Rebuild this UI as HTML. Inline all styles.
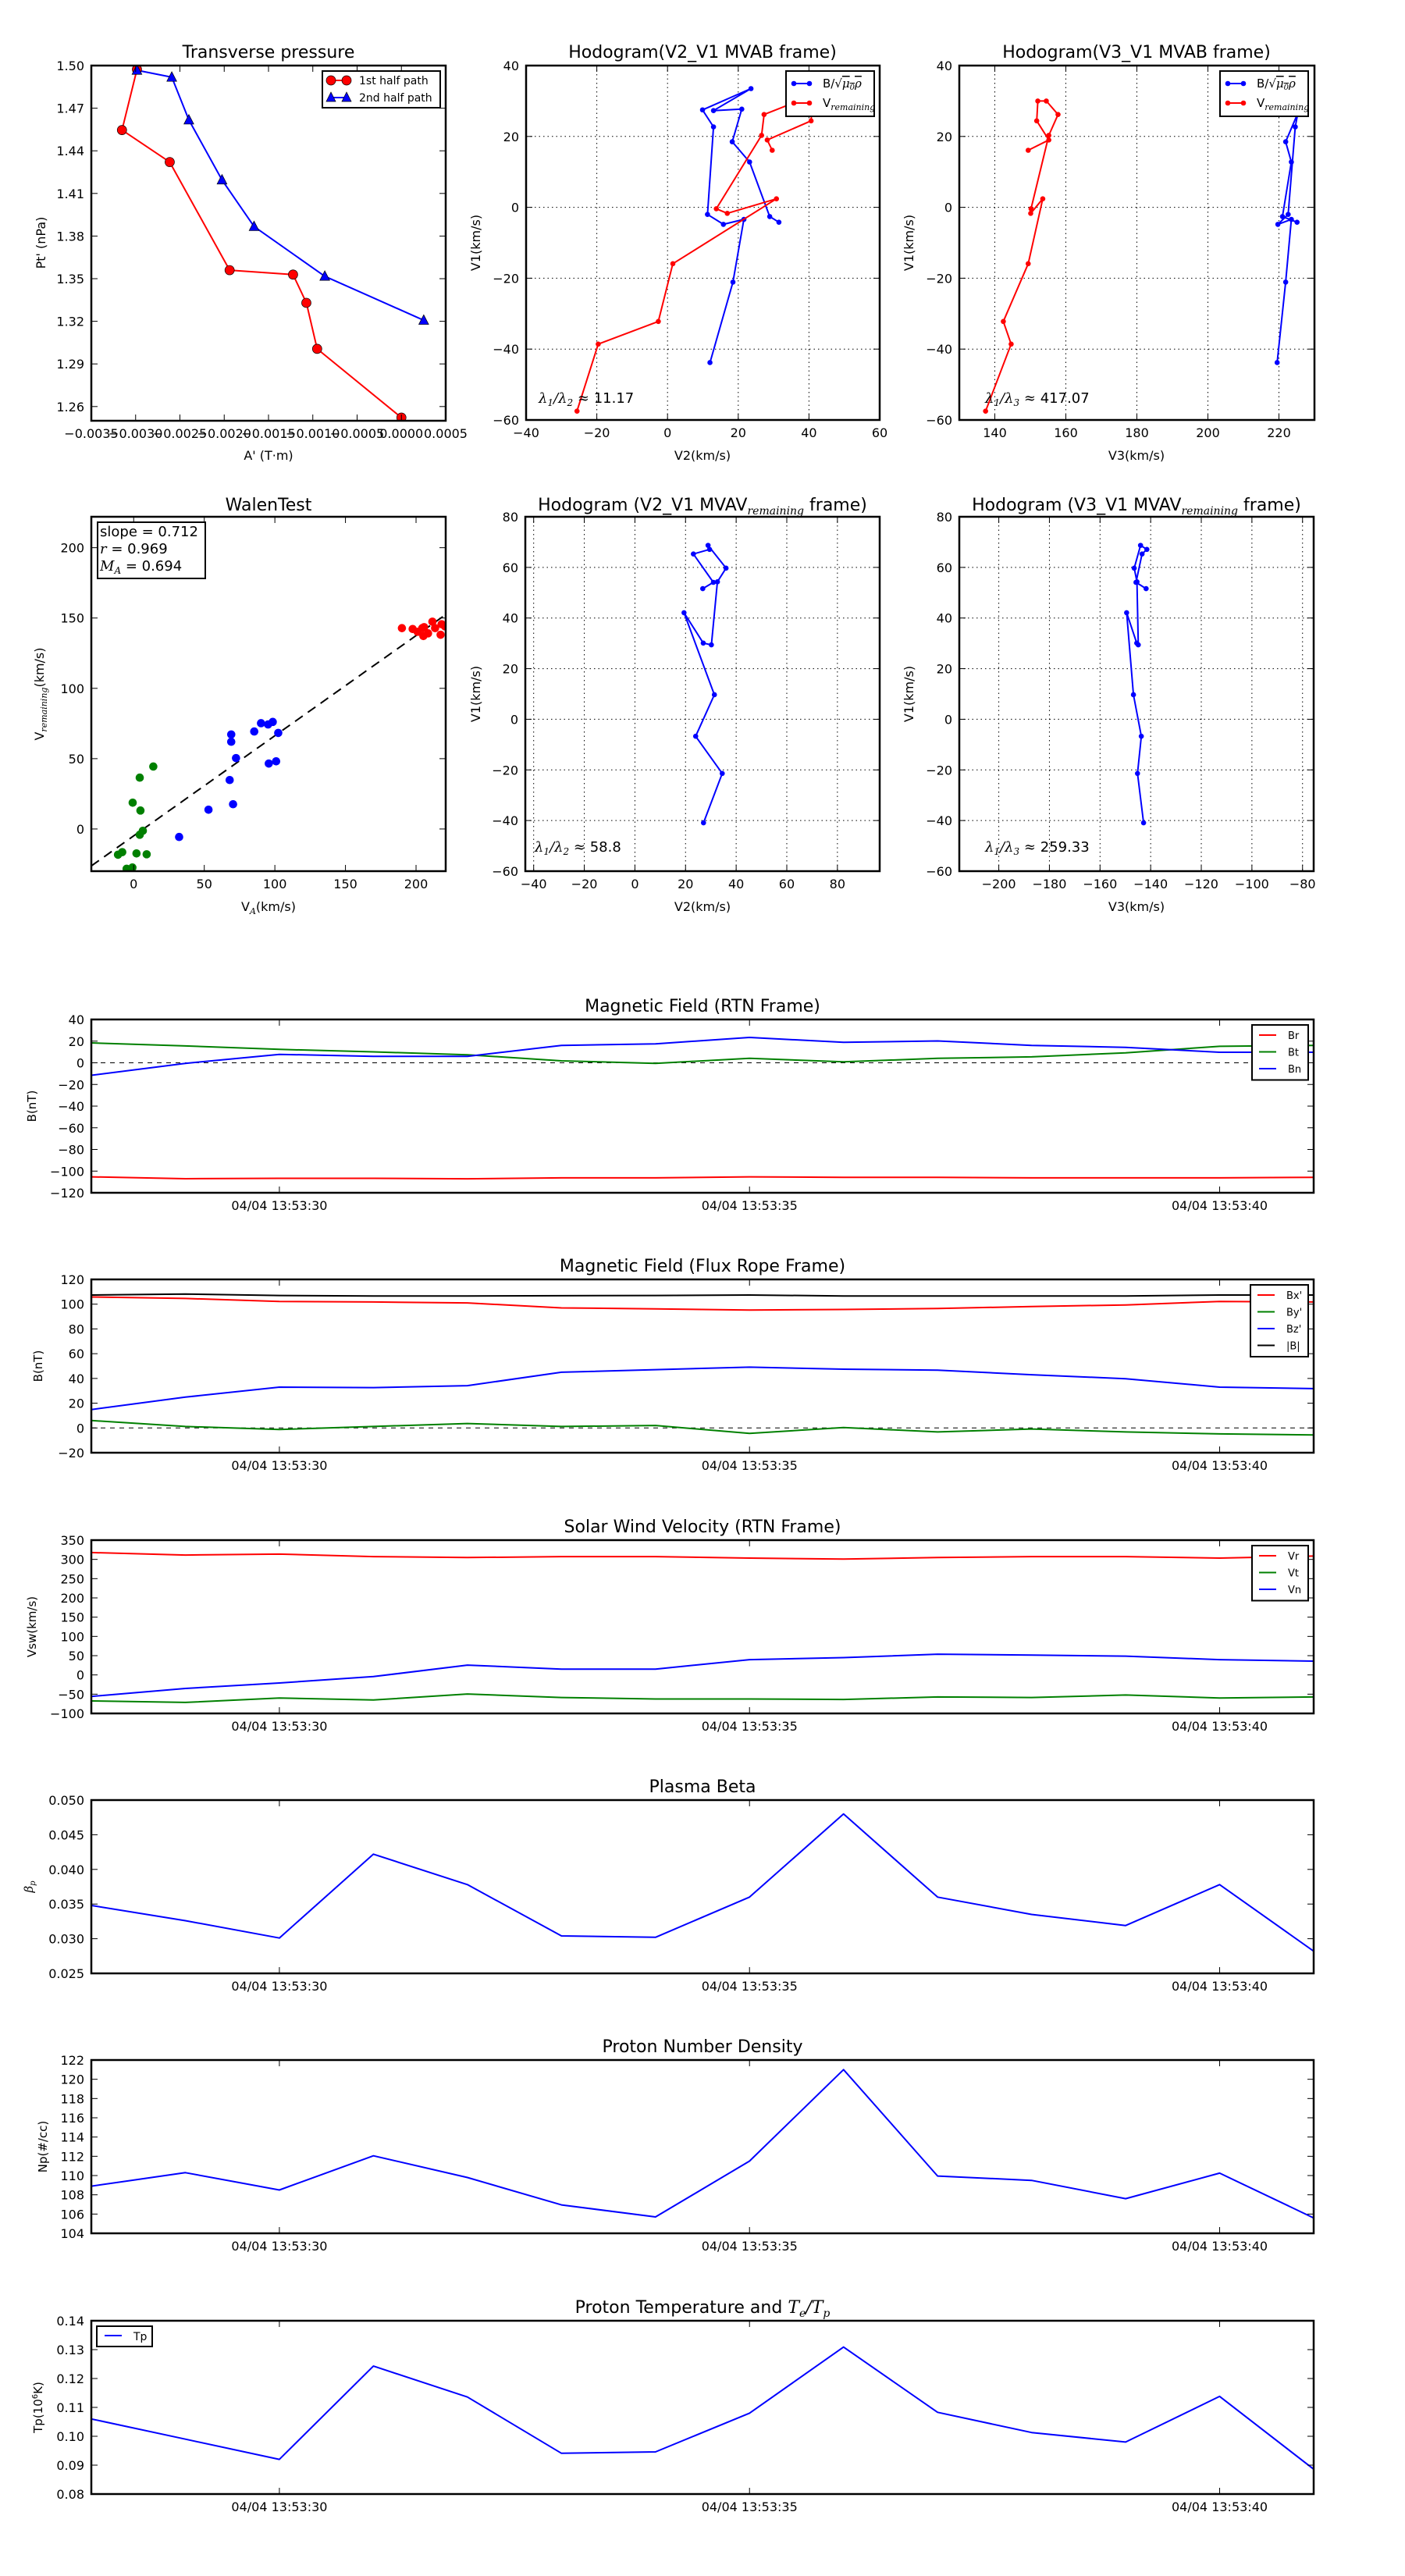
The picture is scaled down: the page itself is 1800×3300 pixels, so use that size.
<!DOCTYPE html>
<html><head><meta charset="utf-8"><title>Flux rope analysis</title>
<style>
html,body{margin:0;padding:0;background:#fff;}
svg{display:block;font-family:"DejaVu Sans","Liberation Sans",sans-serif;}
</style></head>
<body>
<svg id="fig" width="1800" height="3300" viewBox="0 0 1800 3300" xmlns="http://www.w3.org/2000/svg"></svg>
<script>
// ---------- Transverse pressure ----------
const tpRedA = [-0.002985,-0.003154,-0.002615,-0.001939,-0.001223,-0.001073,-0.000951,0.0000];
const tpRedP = [1.4973,1.4546,1.4321,1.3560,1.3529,1.3330,1.3006,1.2522];
const tpBlueA = [-0.002985,-0.002592,-0.002399,-0.002025,-0.001663,-0.000865,0.000252];
const tpBlueP = [1.4967,1.4918,1.4617,1.4195,1.3867,1.3517,1.3207];
const tpXTicks = [-0.0035,-0.0030,-0.0025,-0.0020,-0.0015,-0.0010,-0.0005,0.0000,0.0005];
const tpYTicks = [1.26,1.29,1.32,1.35,1.38,1.41,1.44,1.47,1.50];
// ---------- Hodogram MVAB ----------
const hbV2 = [12.0,18.5,21.6,15.8,11.3,13.0,9.9,23.6,13.0,21.0,18.3,23.2,28.9,31.5];
const hbV1 = [-43.8,-21.1,-3.4,-4.8,-2.0,22.7,27.5,33.5,27.3,27.7,18.5,12.8,-2.6,-4.2];
const hbV3 = [219.5,221.9,223.5,219.7,222.6,224.6,225.5,226.5,225.0,225.8,221.9,223.5,221.0,225.1];
const hvV2 = [-25.6,-19.6,-2.6,1.5,30.8,16.9,13.8,26.6,27.3,37.0,41.0,40.6,28.2,29.6];
const hvV1 = [-57.5,-38.6,-32.2,-15.9,2.4,-1.7,-0.4,20.3,26.2,30.0,30.0,24.4,19.0,16.1];
const hvV3 = [137.4,144.6,142.4,149.4,153.5,150.1,150.2,155.2,157.8,154.5,152.1,151.8,155.2,149.4];
const hodoV2Ticks = [-40,-20,0,20,40,60];
const hodoV1Ticks = [-60,-40,-20,0,20,40];
const hodoV3Ticks = [140,160,180,200,220];
// ---------- Walen ----------
const walGreenX = [13.9,4.3,-0.7,4.8,6.5,4.3,-11.1,-8.1,2.0,9.2,-5.0,-0.9];
const walGreenY = [44.4,36.5,18.7,13.1,-1.3,-4.1,-18.3,-16.5,-17.4,-18.0,-28.3,-27.4];
const walBlueX = [32.2,53.0,70.4,68.0,72.5,69.1,69.1,85.4,90.2,95.2,98.5,102.4,95.7,100.9];
const walBlueY = [-5.7,13.7,17.6,34.8,50.4,62.0,67.2,69.3,75.2,74.3,76.1,68.3,46.5,48.1];
const walRedX = [190,197.6,201.1,204.4,205.2,208.5,211.6,213.5,217.4,218.1,220.5,205.7];
const walRedY = [142.8,142.2,140.2,142.8,137.2,139.1,147.4,142.8,138.1,145.6,144.1,143.5];
const walSlope = [0.712];
const walIntercept = [-4.9];
const walTicks = [0,50,100,150,200];
// ---------- Hodogram MVAV remaining ----------
const hrV2 = [27.1,34.5,24.0,31.4,19.4,27.0,30.2,32.6,36.0,28.9,29.5,23.1,31.0,26.8];
const hrV1 = [-40.9,-21.4,-6.7,9.7,42.1,30.1,29.4,54.3,59.7,68.7,67.1,65.3,54.1,51.6];
const hrV3 = [-142.8,-145.2,-143.7,-146.8,-149.5,-145.5,-144.9,-145.4,-146.5,-144.0,-141.5,-143.4,-145.8,-141.8];
const hrV2Ticks = [-40,-20,0,20,40,60,80];
const hrV1Ticks = [-60,-40,-20,0,20,40,60,80];
const hrV3Ticks = [-200,-180,-160,-140,-120,-100,-80];
// ---------- Time series ----------
const timeSec = [28,29,30,31,32,33,34,35,36,37,38,39,40,41];
const timeTicks = [30,35,40];
const timeTickLabels = ["04/04 13:53:30","04/04 13:53:35","04/04 13:53:40"];
const rtnBr = [-105.3,-107.0,-106.7,-106.7,-107.1,-106.2,-106.2,-105.3,-105.7,-105.7,-106.2,-106.2,-106.2,-105.7];
const rtnBt = [18.4,15.6,12.4,10.1,7.4,1.8,-0.5,4.1,0.9,4.1,5.5,9.2,15.2,16.1];
const rtnBn = [-11.5,-0.5,7.8,6.0,6.0,16.1,17.5,23.4,18.9,20.2,16.1,14.3,9.7,9.7];
const frBx = [105.8,104.6,102.2,101.8,101.0,97.0,96.2,95.3,95.7,96.5,98.1,99.4,102.2,101.8];
const frBy = [6.0,1.2,-1.2,1.2,3.6,1.2,2.0,-4.4,0.4,-3.2,-0.8,-3.2,-4.8,-5.6];
const frBz = [14.9,24.9,33.0,32.6,34.2,45.0,47.1,49.1,47.5,46.7,43.0,39.8,33.0,31.8];
const frBm = [107.4,108.2,107.0,106.6,106.6,106.8,107.0,107.4,106.6,106.6,106.6,106.6,107.4,107.4];
const velVr = [317.7,311.2,313.8,307.3,304.7,307.3,307.3,303.4,300.8,304.7,307.3,307.3,303.4,308.6];
const velVt = [-67.6,-71.5,-59.9,-65.1,-49.6,-58.6,-62.5,-62.5,-63.8,-57.3,-58.6,-52.2,-59.9,-57.3];
const velVn = [-55.9,-35.2,-21.0,-4.3,25.5,15.1,15.1,39.7,44.9,53.9,51.4,48.8,39.7,35.8];
const betaP = [0.0348,0.0326,0.0301,0.0422,0.0378,0.0304,0.0302,0.0360,0.0480,0.0360,0.0335,0.0319,0.0378,0.0282];
const densNp = [108.9,110.3,108.5,112.05,109.8,106.95,105.7,111.5,121.0,109.95,109.5,107.6,110.25,105.6];
const tempTp = [0.106,0.099,0.092,0.1243,0.1136,0.0941,0.0946,0.108,0.1309,0.1083,0.1013,0.098,0.1138,0.0886];

const NS = "http://www.w3.org/2000/svg";
const svg = document.getElementById('fig');
function mk(tag, attrs, parent, name, inter) {
  const e = document.createElementNS(NS, tag);
  for (const k in attrs) e.setAttribute(k, attrs[k]);
  
  
  (parent || svg).appendChild(e);
  return e;
}
function txt(parent, x, y, s, name, opt) {
  opt = opt || {};
  const t = mk('text', {x:x, y:y, 'font-size':opt.size||16, 'text-anchor':opt.anchor||'middle', fill:'#000'}, parent, name);
  if (opt.rotate) t.setAttribute('transform', 'rotate(-90 ' + x + ' ' + y + ')');
  if (opt.html) t.innerHTML = s; else t.textContent = s;
  return t;
}
function fmtNum(v, d) { const s = Math.abs(v).toFixed(d); return (v < -1e-12 ? '\u2212' : '') + s; }
let clipId = 0;
function makeAxes(name, box, xd, yd) {
  const g = mk('g', {}, svg, name);
  const sx = v => box.x + (v - xd[0]) / (xd[1] - xd[0]) * box.w;
  const sy = v => box.y + box.h - (v - yd[0]) / (yd[1] - yd[0]) * box.h;
  const id = 'clip' + (clipId++);
  const cp = mk('clipPath', {id:id}, g, name + '-clip');
  mk('rect', {x:box.x, y:box.y, width:box.w, height:box.h}, cp, name + '-clip-rect');
  const plot = mk('g', {'clip-path':'url(#' + id + ')'}, g, name + '-plot-area');
  return {g, plot, sx, sy, box};
}
function grid(ax, xt, yt) {
  xt.forEach(v => { const x = ax.sx(v);
    mk('line', {x1:x, x2:x, y1:ax.box.y, y2:ax.box.y+ax.box.h, stroke:'#000', 'stroke-width':1, 'stroke-dasharray':'1.5,4'}, ax.plot, 'x-gridline'); });
  yt.forEach(v => { const y = ax.sy(v);
    mk('line', {x1:ax.box.x, x2:ax.box.x+ax.box.w, y1:y, y2:y, stroke:'#000', 'stroke-width':1, 'stroke-dasharray':'1.5,4'}, ax.plot, 'y-gridline'); });
}
function frameTicks(ax, xt, xl, yt, yl, tl) {
  const b = ax.box, L = 8;
  xt.forEach((v, i) => { const x = ax.sx(v);
    mk('line', {x1:x, x2:x, y1:b.y+b.h, y2:b.y+b.h-L, stroke:'#000', 'stroke-width':1}, ax.g, 'x-tick');
    mk('line', {x1:x, x2:x, y1:b.y, y2:b.y+L, stroke:'#000', 'stroke-width':1}, ax.g, 'x-tick-top');
    txt(ax.g, x, b.y + b.h + 22, xl[i], 'x-tick-label', {size: tl || 16});
  });
  yt.forEach((v, i) => { const y = ax.sy(v);
    mk('line', {x1:b.x, x2:b.x+L, y1:y, y2:y, stroke:'#000', 'stroke-width':1}, ax.g, 'y-tick');
    mk('line', {x1:b.x+b.w, x2:b.x+b.w-L, y1:y, y2:y, stroke:'#000', 'stroke-width':1}, ax.g, 'y-tick-right');
    txt(ax.g, b.x - 9, y + 6, yl[i], 'y-tick-label', {size: tl || 16, anchor:'end'});
  });
  mk('rect', {x:b.x, y:b.y, width:b.w, height:b.h, fill:'none', stroke:'#000', 'stroke-width':2.5}, ax.g, 'axes-frame');
}
function polyline(ax, xs, ys, color, name, w) {
  const pts = xs.map((v, i) => ax.sx(v).toFixed(1) + ',' + ax.sy(ys[i]).toFixed(1)).join(' ');
  mk('polyline', {points:pts, fill:'none', stroke:color, 'stroke-width':w||2, 'stroke-linejoin':'round'}, ax.plot, name);
}
function dots(ax, xs, ys, color, name, r, edge) {
  xs.forEach((v, i) => {
    const c = mk('circle', {cx:ax.sx(v), cy:ax.sy(ys[i]), r:r, fill:color}, ax.plot, name);
    if (edge) { c.setAttribute('stroke', '#000'); c.setAttribute('stroke-width', 0.7); }
  });
}
function tris(ax, xs, ys, color, name, s) {
  xs.forEach((v, i) => { const x = ax.sx(v), y = ax.sy(ys[i]);
    mk('polygon', {points:`${x},${y-s} ${x-s*0.9},${y+s*0.75} ${x+s*0.9},${y+s*0.75}`, fill:color, stroke:'#000', 'stroke-width':0.7}, ax.plot, name); });
}
const SUBR = '<tspan font-family="DejaVu Serif, Liberation Serif, serif" font-style="italic" font-size="11" dy="4">remaining</tspan>';
const BSQ = 'B/\u221A<tspan font-family="DejaVu Serif, Liberation Serif, serif" font-style="italic" text-decoration="overline">\u03BC<tspan font-size="10" dy="3">0</tspan><tspan dy="-3">\u03C1</tspan></tspan>';
function hodoLegend(ax, lx, ly) {
  const g = mk('g', {}, ax.g, 'legend');
  mk('rect', {x:lx, y:ly, width:113, height:58, fill:'#fff', stroke:'#000', 'stroke-width':2}, g, 'legend-frame');
  [['#0000ff', BSQ, 'legend-entry-b'], ['#ff0000', 'V' + SUBR, 'legend-entry-v']].forEach((e, i) => {
    const y = ly + 16 + i * 25;
    mk('line', {x1:lx+10, x2:lx+30, y1:y, y2:y, stroke:e[0], 'stroke-width':2}, g, e[2] + '-line');
    mk('circle', {cx:lx+10, cy:y, r:3.3, fill:e[0]}, g, e[2] + '-marker');
    mk('circle', {cx:lx+30, cy:y, r:3.3, fill:e[0]}, g, e[2] + '-marker');
    txt(g, lx + 47, y + 5, e[1], e[2] + '-label', {size:15, anchor:'start', html:true});
  });
}
const ticksFmt = (arr, d) => arr.map(v => fmtNum(v, d));

// ===== Plot 1: Transverse pressure =====
{
  const ax = makeAxes('transverse-pressure-chart', {x:117, y:84, w:454, h:455}, [-0.0035, 0.0005], [1.25, 1.50]);
  polyline(ax, tpRedA, tpRedP, '#ff0000', 'first-half-path-line');
  polyline(ax, tpBlueA, tpBlueP, '#0000ff', 'second-half-path-line');
  dots(ax, tpRedA, tpRedP, '#ff0000', 'first-half-point', 6, true);
  tris(ax, tpBlueA, tpBlueP, '#0000ff', 'second-half-point', 7);
  frameTicks(ax, tpXTicks, ticksFmt(tpXTicks, 4), tpYTicks, ticksFmt(tpYTicks, 2));
  txt(ax.g, 344, 74, 'Transverse pressure', 'chart-title', {size:22});
  txt(ax.g, 344, 589, "A' (T\u00B7m)", 'x-axis-title', {size:16});
  txt(ax.g, 58, 311, "Pt' (nPa)", 'y-axis-title', {size:16, rotate:true});
  const g = mk('g', {}, ax.g, 'legend');
  mk('rect', {x:413, y:91, width:151, height:47, fill:'#fff', stroke:'#000', 'stroke-width':2}, g, 'legend-frame');
  mk('line', {x1:424, x2:444, y1:103, y2:103, stroke:'#ff0000', 'stroke-width':2}, g, 'legend-first-line');
  mk('circle', {cx:424, cy:103, r:6, fill:'#ff0000', stroke:'#000', 'stroke-width':0.7}, g, 'legend-first-marker');
  mk('circle', {cx:444, cy:103, r:6, fill:'#ff0000', stroke:'#000', 'stroke-width':0.7}, g, 'legend-first-marker');
  txt(g, 460, 108, '1st half path', 'legend-first-label', {size:14, anchor:'start'});
  mk('line', {x1:424, x2:444, y1:125, y2:125, stroke:'#0000ff', 'stroke-width':2}, g, 'legend-second-line');
  mk('polygon', {points:'424,118 418,130 430,130', fill:'#0000ff', stroke:'#000', 'stroke-width':0.7}, g, 'legend-second-marker');
  mk('polygon', {points:'444,118 438,130 450,130', fill:'#0000ff', stroke:'#000', 'stroke-width':0.7}, g, 'legend-second-marker');
  txt(g, 460, 130, '2nd half path', 'legend-second-label', {size:14, anchor:'start'});
}
// ===== Plot 2: Hodogram V2-V1 MVAB =====
{
  const ax = makeAxes('hodogram-v2-v1-mvab', {x:674, y:84, w:453, h:454}, [-40, 60], [-60, 40]);
  grid(ax, hodoV2Ticks, hodoV1Ticks);
  polyline(ax, hbV2, hbV1, '#0000ff', 'b-alfven-path');
  dots(ax, hbV2, hbV1, '#0000ff', 'b-alfven-point', 3.3);
  polyline(ax, hvV2, hvV1, '#ff0000', 'v-remaining-path');
  dots(ax, hvV2, hvV1, '#ff0000', 'v-remaining-point', 3.3);
  frameTicks(ax, hodoV2Ticks, ticksFmt(hodoV2Ticks, 0), hodoV1Ticks, ticksFmt(hodoV1Ticks, 0));
  hodoLegend(ax, 1007, 91);
  txt(ax.g, 690, 516, '<tspan font-family="DejaVu Serif, serif" font-style="italic">\u03BB<tspan font-size="12" dy="4">1</tspan><tspan dy="-4">/\u03BB</tspan><tspan font-size="12" dy="4">2</tspan><tspan dy="-4"> \u2248</tspan></tspan> 11.17', 'eigenvalue-ratio', {size:18, anchor:'start', html:true});
  txt(ax.g, 900, 74, 'Hodogram(V2_V1 MVAB frame)', 'chart-title', {size:22});
  txt(ax.g, 900, 589, 'V2(km/s)', 'x-axis-title', {size:16});
  txt(ax.g, 615, 311, 'V1(km/s)', 'y-axis-title', {size:16, rotate:true});
}
// ===== Plot 3: Hodogram V3-V1 MVAB =====
{
  const ax = makeAxes('hodogram-v3-v1-mvab', {x:1229, y:84, w:455, h:454}, [130, 230], [-60, 40]);
  grid(ax, hodoV3Ticks, hodoV1Ticks);
  polyline(ax, hbV3, hbV1, '#0000ff', 'b-alfven-path');
  dots(ax, hbV3, hbV1, '#0000ff', 'b-alfven-point', 3.3);
  polyline(ax, hvV3, hvV1, '#ff0000', 'v-remaining-path');
  dots(ax, hvV3, hvV1, '#ff0000', 'v-remaining-point', 3.3);
  frameTicks(ax, hodoV3Ticks, ticksFmt(hodoV3Ticks, 0), hodoV1Ticks, ticksFmt(hodoV1Ticks, 0));
  hodoLegend(ax, 1563, 91);
  txt(ax.g, 1262, 516, '<tspan font-family="DejaVu Serif, serif" font-style="italic">\u03BB<tspan font-size="12" dy="4">1</tspan><tspan dy="-4">/\u03BB</tspan><tspan font-size="12" dy="4">3</tspan><tspan dy="-4"> \u2248</tspan></tspan> 417.07', 'eigenvalue-ratio', {size:18, anchor:'start', html:true});
  txt(ax.g, 1456, 74, 'Hodogram(V3_V1 MVAB frame)', 'chart-title', {size:22});
  txt(ax.g, 1456, 589, 'V3(km/s)', 'x-axis-title', {size:16});
  txt(ax.g, 1170, 311, 'V1(km/s)', 'y-axis-title', {size:16, rotate:true});
}
// ===== Plot 4: Walen test =====
{
  const ax = makeAxes('walen-test-chart', {x:117, y:662, w:454, h:454}, [-30, 221], [-30, 222]);
  const x0 = -30, x1 = 221;
  mk('line', {x1:ax.sx(x0), y1:ax.sy(walSlope[0]*x0 + walIntercept[0]), x2:ax.sx(x1), y2:ax.sy(walSlope[0]*x1 + walIntercept[0]), stroke:'#000', 'stroke-width':2, 'stroke-dasharray':'12,8'}, ax.plot, 'fit-line');
  dots(ax, walGreenX, walGreenY, '#008000', 'green-point', 5.3);
  dots(ax, walBlueX, walBlueY, '#0000ff', 'blue-point', 5.3);
  dots(ax, walRedX, walRedY, '#ff0000', 'red-point', 5.3);
  frameTicks(ax, walTicks, ticksFmt(walTicks, 0), walTicks, ticksFmt(walTicks, 0));
  const g = mk('g', {}, ax.g, 'stats-box');
  mk('rect', {x:125, y:669, width:138, height:72, fill:'#fff', stroke:'#000', 'stroke-width':2}, g, 'stats-frame');
  txt(g, 128, 687, 'slope = 0.712', 'slope-text', {size:18, anchor:'start'});
  txt(g, 128, 709, '<tspan font-family="DejaVu Serif, serif" font-style="italic">r</tspan> = 0.969', 'r-text', {size:18, anchor:'start', html:true});
  txt(g, 128, 731, '<tspan font-family="DejaVu Serif, serif" font-style="italic">M<tspan font-size="12" dy="4">A</tspan></tspan><tspan dy="-4"> = 0.694</tspan>', 'ma-text', {size:18, anchor:'start', html:true});
  txt(ax.g, 344, 654, 'WalenTest', 'chart-title', {size:22});
  txt(ax.g, 344, 1167, 'V<tspan font-family="DejaVu Serif, serif" font-style="italic" font-size="11" dy="4">A</tspan><tspan dy="-4">(km/s)</tspan>', 'x-axis-title', {size:16, html:true});
  txt(ax.g, 56, 889, 'V' + SUBR + '<tspan dy="-4">(km/s)</tspan>', 'y-axis-title', {size:16, rotate:true, html:true});
}
// ===== Plot 5: Hodogram V2-V1 MVAV =====
{
  const ax = makeAxes('hodogram-v2-v1-mvav', {x:673, y:662, w:454, h:454}, [-43.3, 96.7], [-60, 80]);
  grid(ax, hrV2Ticks, hrV1Ticks);
  polyline(ax, hrV2, hrV1, '#0000ff', 'b-alfven-path');
  dots(ax, hrV2, hrV1, '#0000ff', 'b-alfven-point', 3.3);
  frameTicks(ax, hrV2Ticks, ticksFmt(hrV2Ticks, 0), hrV1Ticks, ticksFmt(hrV1Ticks, 0));
  txt(ax.g, 685, 1091, '<tspan font-family="DejaVu Serif, serif" font-style="italic">\u03BB<tspan font-size="12" dy="4">1</tspan><tspan dy="-4">/\u03BB</tspan><tspan font-size="12" dy="4">2</tspan><tspan dy="-4"> \u2248</tspan></tspan> 58.8', 'eigenvalue-ratio', {size:18, anchor:'start', html:true});
  txt(ax.g, 900, 654, 'Hodogram (V2_V1 MVAV<tspan font-family="DejaVu Serif, serif" font-style="italic" font-size="14" dy="5">remaining</tspan><tspan dy="-5"> frame)</tspan>', 'chart-title', {size:22, html:true});
  txt(ax.g, 900, 1167, 'V2(km/s)', 'x-axis-title', {size:16});
  txt(ax.g, 615, 889, 'V1(km/s)', 'y-axis-title', {size:16, rotate:true});
}
// ===== Plot 6: Hodogram V3-V1 MVAV =====
{
  const ax = makeAxes('hodogram-v3-v1-mvav', {x:1229, y:662, w:454, h:454}, [-215.6, -75.6], [-60, 80]);
  grid(ax, hrV3Ticks, hrV1Ticks);
  polyline(ax, hrV3, hrV1, '#0000ff', 'b-alfven-path');
  dots(ax, hrV3, hrV1, '#0000ff', 'b-alfven-point', 3.3);
  frameTicks(ax, hrV3Ticks, ticksFmt(hrV3Ticks, 0), hrV1Ticks, ticksFmt(hrV1Ticks, 0));
  txt(ax.g, 1262, 1091, '<tspan font-family="DejaVu Serif, serif" font-style="italic">\u03BB<tspan font-size="12" dy="4">1</tspan><tspan dy="-4">/\u03BB</tspan><tspan font-size="12" dy="4">3</tspan><tspan dy="-4"> \u2248</tspan></tspan> 259.33', 'eigenvalue-ratio', {size:18, anchor:'start', html:true});
  txt(ax.g, 1456, 654, 'Hodogram (V3_V1 MVAV<tspan font-family="DejaVu Serif, serif" font-style="italic" font-size="14" dy="5">remaining</tspan><tspan dy="-5"> frame)</tspan>', 'chart-title', {size:22, html:true});
  txt(ax.g, 1456, 1167, 'V3(km/s)', 'x-axis-title', {size:16});
  txt(ax.g, 1170, 889, 'V1(km/s)', 'y-axis-title', {size:16, rotate:true});
}
// ===== Time series panels =====
function range(a, b, s) { const r = []; for (let v = a; v <= b + s * 1e-6; v += s) r.push(+v.toFixed(6)); return r; }
function tsPanel(cfg) {
  const box = {x:117, y:cfg.top, w:1566, h:222};
  const ax = makeAxes(cfg.name, box, [28, 41], cfg.yd);
  if (cfg.zero) mk('line', {x1:box.x, x2:box.x+box.w, y1:ax.sy(0), y2:ax.sy(0), stroke:'#000', 'stroke-width':1, 'stroke-dasharray':'6,6'}, ax.plot, 'zero-line');
  cfg.series.forEach(s => polyline(ax, timeSec, s.data, s.color, s.name, 2));
  const yt = range(cfg.yd[0], cfg.yd[1], cfg.step);
  frameTicks(ax, timeTicks, timeTickLabels, yt, ticksFmt(yt, cfg.dec));
  txt(ax.g, 900, cfg.top - 10, cfg.title, 'chart-title', {size:22, html:true});
  txt(ax.g, cfg.ylx, cfg.top + 111, cfg.ylabel, 'y-axis-title', {size:15, rotate:true, html:true});
  if (cfg.legend) {
    const L = cfg.legend, g = mk('g', {}, ax.g, 'legend');
    const n = cfg.series.length, lh = n * 21.5 + 6;
    mk('rect', {x:L.x, y:L.y, width:L.w, height:lh, fill:'#fff', stroke:'#000', 'stroke-width':2}, g, 'legend-frame');
    cfg.series.forEach((s, i) => {
      const y = L.y + 13 + i * 21.5;
      mk('line', {x1:L.x+9, x2:L.x+31, y1:y, y2:y, stroke:s.color, 'stroke-width':2}, g, 'legend-' + s.name + '-line');
      txt(g, L.x + 46, y + 5, s.label, 'legend-' + s.name + '-label', {size:13, anchor:'start'});
    });
  }
}
tsPanel({name:'magnetic-field-rtn-chart', top:1306, yd:[-120,40], step:20, dec:0, zero:true, title:'Magnetic Field (RTN Frame)', ylabel:'B(nT)', ylx:46,
  series:[{data:rtnBr, color:'#ff0000', name:'br', label:'Br'}, {data:rtnBt, color:'#008000', name:'bt', label:'Bt'}, {data:rtnBn, color:'#0000ff', name:'bn', label:'Bn'}],
  legend:{x:1604, y:1313, w:72}});
tsPanel({name:'magnetic-field-flux-rope-chart', top:1639, yd:[-20,120], step:20, dec:0, zero:true, title:'Magnetic Field (Flux Rope Frame)', ylabel:'B(nT)', ylx:54,
  series:[{data:frBx, color:'#ff0000', name:'bx', label:"Bx'"}, {data:frBy, color:'#008000', name:'by', label:"By'"}, {data:frBz, color:'#0000ff', name:'bz', label:"Bz'"}, {data:frBm, color:'#000000', name:'bmag', label:'|B|'}],
  legend:{x:1602, y:1646, w:74}});
tsPanel({name:'solar-wind-velocity-chart', top:1973, yd:[-100,350], step:50, dec:0, zero:false, title:'Solar Wind Velocity (RTN Frame)', ylabel:'Vsw(km/s)', ylx:46,
  series:[{data:velVr, color:'#ff0000', name:'vr', label:'Vr'}, {data:velVt, color:'#008000', name:'vt', label:'Vt'}, {data:velVn, color:'#0000ff', name:'vn', label:'Vn'}],
  legend:{x:1604, y:1980, w:72}});
tsPanel({name:'plasma-beta-chart', top:2306, yd:[0.025,0.050], step:0.005, dec:3, zero:false, title:'Plasma Beta',
  ylabel:'<tspan font-family="DejaVu Serif, serif" font-style="italic">\u03B2<tspan font-size="10" dy="3">p</tspan></tspan>', ylx:42,
  series:[{data:betaP, color:'#0000ff', name:'beta', label:'beta'}]});
tsPanel({name:'proton-density-chart', top:2639, yd:[104,122], step:2, dec:0, zero:false, title:'Proton Number Density', ylabel:'Np(#/cc)', ylx:60,
  series:[{data:densNp, color:'#0000ff', name:'np', label:'Np'}]});
tsPanel({name:'proton-temperature-chart', top:2973, yd:[0.08,0.14], step:0.01, dec:2, zero:false,
  title:'Proton Temperature and <tspan font-family="DejaVu Serif, serif" font-style="italic">T<tspan font-size="14" dy="5">e</tspan><tspan dy="-5">/T</tspan><tspan font-size="14" dy="5">p</tspan></tspan>',
  ylabel:'Tp(10<tspan font-size="10" dy="-6">6</tspan><tspan dy="6">K)</tspan>', ylx:54,
  series:[{data:tempTp, color:'#0000ff', name:'tp', label:'Tp'}]});
{
  const g = mk('g', {}, svg, 'temperature-legend');
  mk('rect', {x:124, y:2980, width:71, height:26, fill:'#fff', stroke:'#000', 'stroke-width':2}, g, 'legend-frame');
  mk('line', {x1:134, x2:156, y1:2992, y2:2992, stroke:'#0000ff', 'stroke-width':2}, g, 'legend-tp-line');
  txt(g, 171, 2998, 'Tp', 'legend-tp-label', {size:14, anchor:'start'});
}
</script>
</body></html>
